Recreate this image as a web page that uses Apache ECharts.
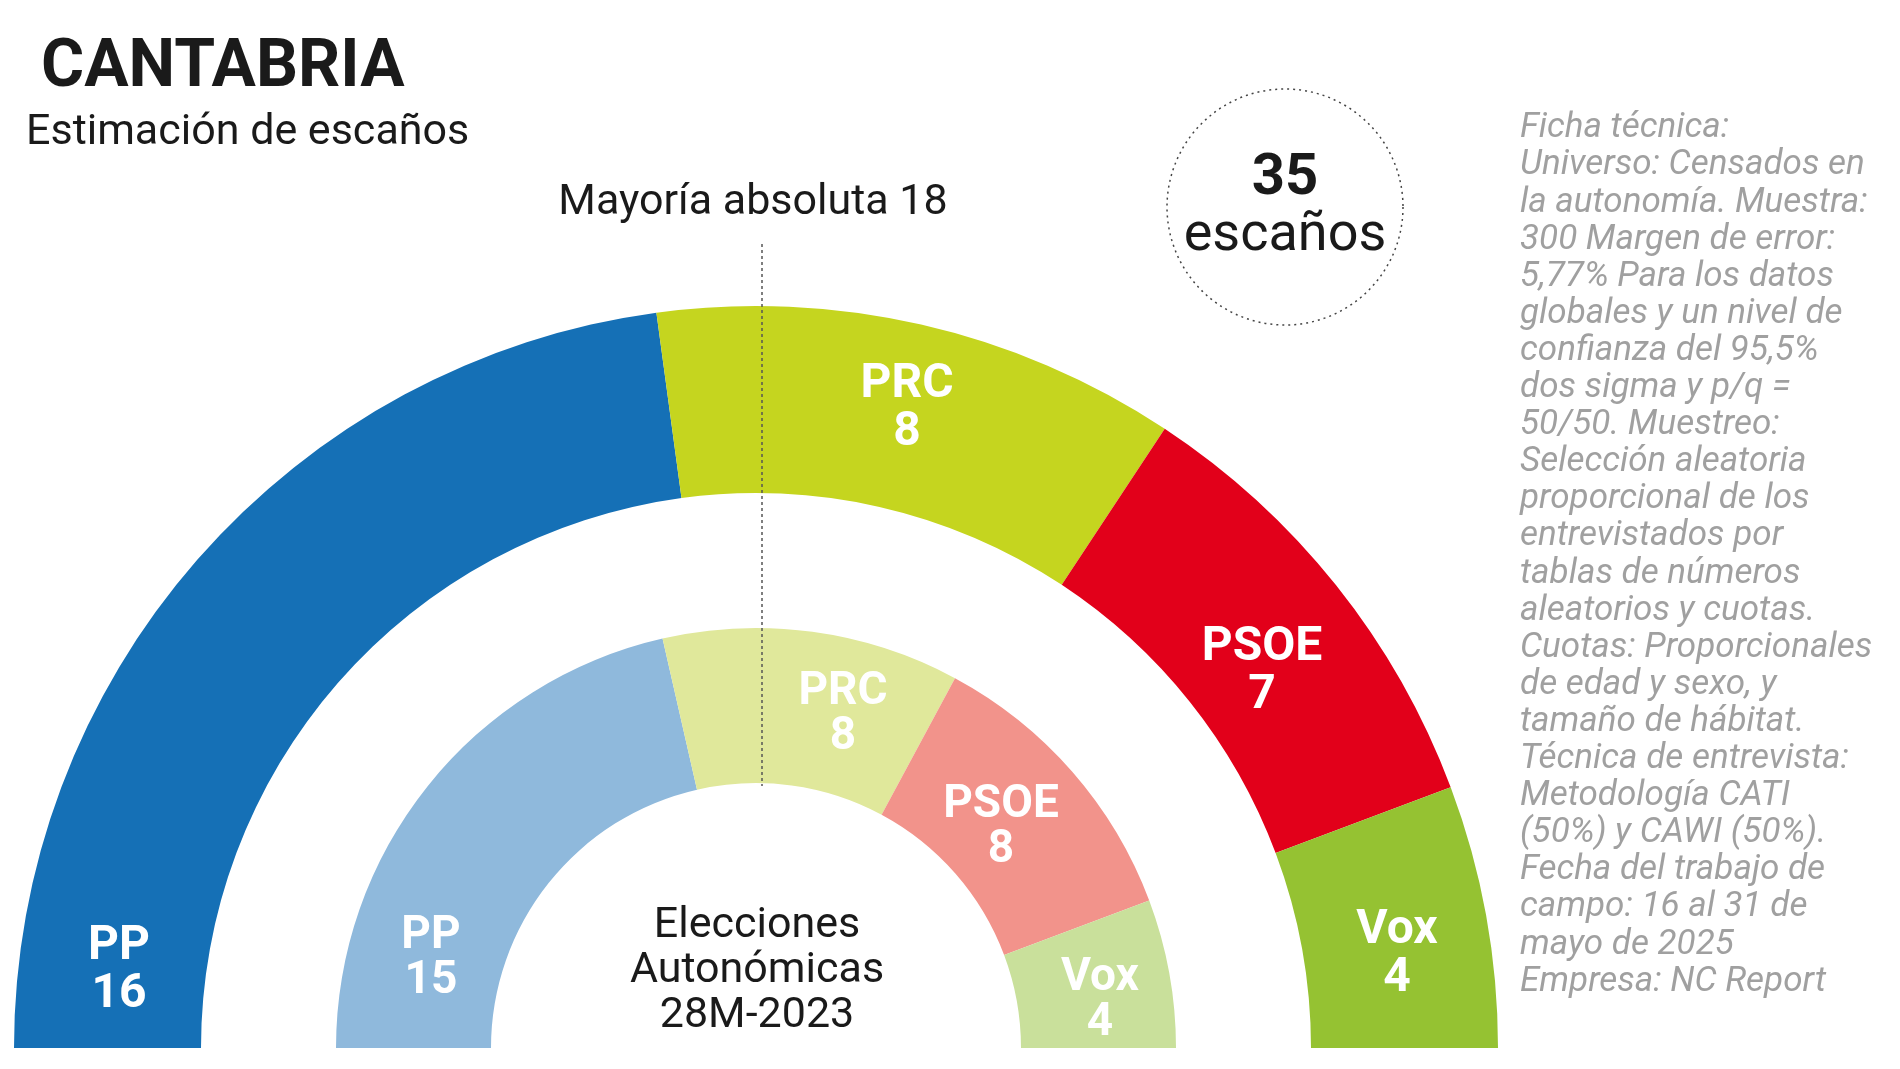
<!DOCTYPE html><html><head><meta charset="utf-8"><script src="https://cdn.jsdelivr.net/npm/echarts@6/dist/echarts.min.js"></script>
<style>html,body{margin:0;background:#fff}#c{width:1900px;height:1069px}</style></head><body><div id="c"></div><script>
const parties=['PP','PRC','PSOE','Vox'];
const seats2025=[16,8,7,4];
const seats2023=[15,8,8,4];
const colorsOuter=['#1570b6','#c5d51f','#e2001a','#95c232'];
const colorsInner=['#8fb9dc','#e0e89b','#f2938b','#c9e09b'];
const ficha=['Ficha técnica:','Universo: Censados en','la autonomía. Muestra:','300 Margen de error:','5,77% Para los datos','globales y un nivel de','confianza del 95,5%','dos sigma y p/q =','50/50. Muestreo:','Selección aleatoria','proporcional de los','entrevistados por','tablas de números','aleatorios y cuotas.','Cuotas: Proporcionales','de edad y sexo, y','tamaño de hábitat.','Técnica de entrevista:','Metodología CATI','(50%) y CAWI (50%).','Fecha del trabajo de','campo: 16 al 31 de','mayo de 2025','Empresa: NC Report'];
const F='Roboto, "Noto Sans", sans-serif';
const outerLabelPos=[[119,971],[907,409],[1262,672],[1397,955]];
const innerLabelPos=[[431,959],[843,715],[1001,828],[1100,1001]];
const ch=echarts.init(document.getElementById('c'));
function ring(vals,cols,r0,r1){return{type:'pie',center:[756,1048],radius:[r0,r1],startAngle:180,endAngle:0,clockwise:true,silent:true,
 data:parties.map((p,i)=>({name:p,value:vals[i],itemStyle:{color:cols[i]}})),
 label:{show:false},labelLine:{show:false}}}
function labels(vals,pos,fs){return parties.map((p,i)=>({type:'text',z:20,x:pos[i][0],y:pos[i][1],style:{text:p+'\n'+vals[i],font:'bold '+fs+'px '+F,lineHeight:fs*0.98,fill:'#fff',textAlign:'center',textVerticalAlign:'middle'}}))}
ch.setOption({animation:false,
series:[ring(seats2025,colorsOuter,555,742),ring(seats2023,colorsInner,265,420)],
graphic:[
{type:'text',left:41,top:36,style:{text:'CANTABRIA',font:'bold 66px '+F,fill:'#1a1a1a'}},
{type:'text',left:26,top:112,style:{text:'Estimación de escaños',font:'43px '+F,fill:'#1a1a1a'}},
{type:'text',x:753,y:203,style:{text:'Mayoría absoluta 18',font:'43px '+F,fill:'#1a1a1a',textAlign:'center',textVerticalAlign:'middle'}},
{type:'line',z:10,shape:{x1:762,y1:244,x2:762,y2:786},style:{stroke:'#555',lineWidth:1.5,lineDash:[3,3]}},
{type:'circle',shape:{cx:1285,cy:207,r:118},style:{fill:'none',stroke:'#444',lineWidth:1.5,lineDash:[2,4]}},
{type:'text',x:1285,y:179,style:{text:'35',font:'bold 58px '+F,fill:'#1a1a1a',textAlign:'center',textVerticalAlign:'middle'}},
{type:'text',x:1285,y:236,style:{text:'escaños',font:'54px '+F,fill:'#1a1a1a',textAlign:'center',textVerticalAlign:'middle'}},
{type:'text',x:757,y:971,style:{text:'Elecciones\nAutonómicas\n28M-2023',font:'43px '+F,lineHeight:45,fill:'#1a1a1a',textAlign:'center',textVerticalAlign:'middle'}},
{type:'text',left:1520,top:110,style:{text:ficha.join('\n'),font:'italic 35px '+F,lineHeight:37.1,fill:'#a0a0a0'}}
].concat(labels(seats2025,outerLabelPos,48),labels(seats2023,innerLabelPos,46))});
</script></body></html>
